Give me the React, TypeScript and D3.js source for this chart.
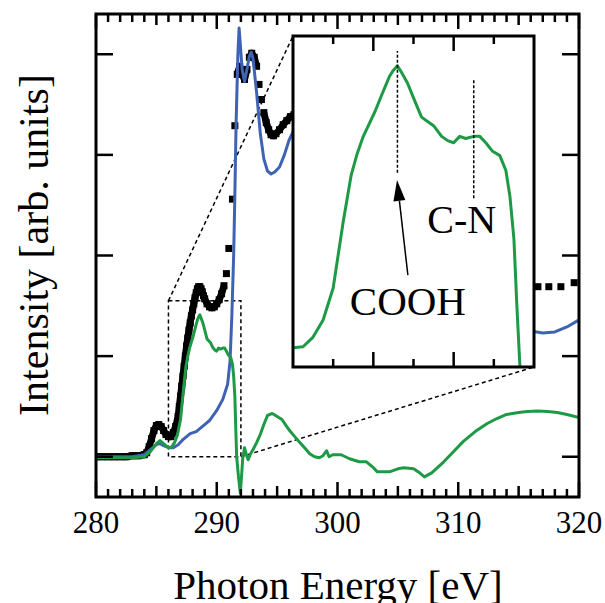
import React from "react";
import * as d3 from "d3";

type Pt = [number, number];

// photon energy [eV], intensity [arb. units]
const sampleSpectrum: Pt[] = [
  [280, 0], [280.5, 0], [281, 0], [281.5, 0], [282, 0], [282.5, 0], [283, 0.01], [283.5, 0.01], [284, 0.02],
  [284.2, 0.04], [284.4, 0.1], [284.6, 0.18], [284.8, 0.26], [285.0, 0.31], [285.2, 0.32], [285.4, 0.3],
  [285.6, 0.26], [285.8, 0.22], [286.0, 0.2], [286.2, 0.2], [286.4, 0.24], [286.6, 0.3], [286.8, 0.4],
  [286.9, 0.5], [287.0, 0.6], [287.1, 0.7], [287.2, 0.8], [287.3, 0.9], [287.4, 1.0], [287.5, 1.1],
  [287.6, 1.18], [287.7, 1.26], [287.8, 1.33], [287.9, 1.4], [288.0, 1.46], [288.1, 1.52], [288.2, 1.58],
  [288.3, 1.63], [288.4, 1.67], [288.5, 1.69], [288.6, 1.69], [288.7, 1.67], [288.8, 1.64], [288.9, 1.6],
  [289.0, 1.57], [289.2, 1.52], [289.4, 1.49], [289.6, 1.48], [289.8, 1.49], [290.0, 1.52], [290.2, 1.56],
  [290.4, 1.62], [290.6, 1.7], [290.8, 1.82], [291.0, 2.07], [291.3, 2.56], [291.5, 3.29], [291.7, 3.8],
  [291.9, 3.88], [292.1, 3.8], [292.3, 3.75], [292.5, 3.85], [292.7, 3.97], [292.9, 4.01], [293.1, 3.97],
  [293.3, 3.88], [293.5, 3.7], [293.7, 3.55], [293.9, 3.42], [294.1, 3.32], [294.3, 3.25], [294.5, 3.2],
  [294.7, 3.19], [294.9, 3.21], [295.2, 3.25], [295.5, 3.3], [295.8, 3.34], [296.1, 3.38], [296.4, 3.4],
  [297, 3.42], [298.5, 3.35], [300, 3.2], [302, 2.95], [304, 2.7], [306, 2.45], [308, 2.25], [310, 2.05],
  [312, 1.9], [314, 1.78], [315.6, 1.72], [316.6, 1.69], [317.5, 1.69], [318.5, 1.69], [319.6, 1.73],
];

const referenceSpectrum: Pt[] = [
  [280, 0], [283, 0], [284, 0.02], [284.5, 0.07], [285, 0.12], [285.3, 0.13], [285.6, 0.11], [286, 0.09],
  [286.4, 0.09], [286.8, 0.12], [287.2, 0.17], [287.8, 0.23], [288.3, 0.25], [288.9, 0.31], [289.4, 0.36],
  [290, 0.46], [290.5, 0.57], [290.9, 0.72], [291.1, 0.95], [291.25, 1.4], [291.4, 2.0], [291.5, 2.6],
  [291.6, 3.3], [291.75, 4.0], [291.85, 4.26], [291.95, 4.1], [292.1, 3.85], [292.3, 3.73], [292.5, 3.85],
  [292.7, 3.98], [292.85, 4.02], [293.0, 3.96], [293.3, 3.62], [293.6, 3.22], [293.9, 2.96], [294.2, 2.84],
  [294.5, 2.81], [294.8, 2.83], [295.2, 2.88], [295.6, 3.0], [296.0, 3.15], [296.4, 3.25], [297.5, 3.35],
  [299, 3.2], [301, 2.9], [303, 2.5], [305, 2.1], [308, 1.7], [311, 1.4], [313.5, 1.28], [316, 1.25],
  [317, 1.23], [318, 1.24], [319, 1.29], [320, 1.36],
];

const differenceSpectrum: Pt[] = [
  [280, -0.01], [283, -0.01], [284, 0.0], [284.5, 0.05], [285, 0.13], [285.3, 0.16], [285.6, 0.13],
  [286.0, 0.09], [286.25, 0.095], [286.5, 0.14], [286.75, 0.22], [287.0, 0.37], [287.25, 0.68],
  [287.45, 0.9], [287.6, 1.0], [287.75, 1.08], [287.9, 1.14], [288.05, 1.2], [288.2, 1.27], [288.4, 1.36],
  [288.5, 1.39], [288.6, 1.41], [288.7, 1.38], [288.85, 1.33], [289.0, 1.26], [289.2, 1.17], [289.35, 1.15],
  [289.5, 1.13], [289.7, 1.08], [289.85, 1.06], [290.0, 1.05], [290.15, 1.08], [290.3, 1.07], [290.5, 1.08],
  [290.65, 1.08], [290.8, 1.05], [290.97, 1.01], [291.15, 0.99], [291.3, 0.92], [291.4, 0.8], [291.5, 0.6],
  [291.57, 0.3], [291.65, 0.0], [291.8, -0.2], [291.95, -0.36], [292.05, -0.2], [292.15, -0.02],
  [292.3, 0.09], [292.45, 0.02], [292.6, -0.03], [292.8, 0.03], [293.0, 0.07], [293.3, 0.14], [293.6, 0.22],
  [293.9, 0.32], [294.2, 0.41], [294.6, 0.43], [295.0, 0.4], [295.4, 0.37], [295.8, 0.3], [296.1, 0.25],
  [296.6, 0.18], [297.2, 0.1], [297.7, 0.03], [298.1, 0.0], [298.5, -0.01], [298.8, 0.01], [299.1, 0.06],
  [299.3, 0.0], [299.6, 0.02], [300.3, 0.02], [301.0, -0.02], [301.8, -0.05], [302.4, -0.05], [302.9, -0.1],
  [303.3, -0.15], [304.3, -0.15], [305.0, -0.12], [305.5, -0.11], [306.3, -0.12], [306.8, -0.16],
  [307.2, -0.2], [307.8, -0.16], [308.8, -0.05], [309.6, 0.05], [310.4, 0.15], [311.4, 0.25], [312.4, 0.33],
  [313.2, 0.38], [314.0, 0.42], [315.0, 0.44], [315.7, 0.45], [316.6, 0.455], [317.4, 0.45], [318.2, 0.44],
  [319.0, 0.42], [320, 0.39],
];

const energyDomain = [280, 320];
const intensityDomain = [-0.4, 4.4];
const xTickLabels = [280, 290, 300, 310, 320];
const yTickValues = [0, 1, 2, 3, 4];
const zoomEnergy = [286, 292];
const zoomIntensity = [0, 1.55];
const insetTicks = [287, 288, 289, 290, 291];

// dashed guide lines inside the inset
const peakLines = [
  { label: "COOH", energy: 288.6, from: 0.91, to: 1.48 },
  { label: "C-N", energy: 290.5, from: 0.79, to: 1.35 },
];
const arrowTail: Pt = [288.86, 0.43];
const arrowTip: Pt = [288.59, 0.876];

const BLUE = "#3f63b3";
const GREEN = "#1e9a46";
const FONT = '"Liberation Serif", "Times New Roman", Times, serif';

const plot = { left: 96, right: 579, top: 14, bottom: 497 };
const inset = { left: 293, right: 534, top: 36, bottom: 367 };

export default function App() {
  const x = d3.scaleLinear().domain(energyDomain).range([plot.left, plot.right]);
  const y = d3.scaleLinear().domain(intensityDomain).range([plot.bottom, plot.top]);
  const ix = d3.scaleLinear().domain(zoomEnergy).range([inset.left, inset.right]);
  const iy = d3.scaleLinear().domain(zoomIntensity).range([inset.bottom, inset.top]);

  const line = d3.line<Pt>().x(d => x(d[0])).y(d => y(d[1]));
  const insetLine = d3.line<Pt>().x(d => ix(d[0])).y(d => iy(d[1]));

  // densely sampled markers merge into a band: join neighbours that sit close on screen
  const bandSegments: Pt[][] = [];
  let seg: Pt[] = [sampleSpectrum[0]];
  for (let i = 1; i < sampleSpectrum.length; i++) {
    const a = sampleSpectrum[i - 1], b = sampleSpectrum[i];
    const near = Math.hypot(x(b[0]) - x(a[0]), y(b[1]) - y(a[1])) < 10.5;
    if (near) seg.push(b);
    else {
      bandSegments.push(seg);
      seg = [b];
    }
  }
  bandSegments.push(seg);

  const minor = d3.range(energyDomain[0], energyDomain[1] + 0.5, 1);
  const tickLen = (e: number) => (e % 10 === 0 ? 15 : e % 5 === 0 ? 11 : 8);

  const zx0 = x(zoomEnergy[0]), zx1 = x(zoomEnergy[1]);
  const zy0 = y(zoomIntensity[0]), zy1 = y(zoomIntensity[1]);

  const tx = ix(arrowTip[0]), ty = iy(arrowTip[1]);
  const sx = ix(arrowTail[0]), sy = iy(arrowTail[1]);
  const len = Math.hypot(tx - sx, ty - sy);
  const ux = (tx - sx) / len, uy = (ty - sy) / len;
  const headL = 21, headW = 6;
  const bx = tx - ux * headL, by = ty - uy * headL;
  const head = `${tx},${ty} ${bx - uy * headW},${by + ux * headW} ${bx + uy * headW},${by - ux * headW}`;

  return (
    <svg width={605} height={603} style={{ position: "absolute", left: 0, top: 0, background: "#fff", fontFamily: FONT }}>
      <defs>
        <clipPath id="plotClip">
          <rect x={plot.left} y={plot.top} width={plot.right - plot.left} height={plot.bottom - plot.top} />
        </clipPath>
        <clipPath id="insetClip">
          <rect x={inset.left} y={inset.top} width={inset.right - inset.left} height={inset.bottom - inset.top} />
        </clipPath>
      </defs>

      {/* zoom window and guides */}
      <g stroke="#000" strokeWidth={1.5} strokeDasharray="4,3" fill="none">
        <rect x={zx0} y={zy1} width={zx1 - zx0} height={zy0 - zy1} />
        <line x1={zx0} y1={zy1} x2={inset.left} y2={inset.top} />
        <line x1={zx1} y1={zy0} x2={inset.right} y2={inset.bottom} />
      </g>

      <g clipPath="url(#plotClip)">
        {bandSegments.filter(s => s.length > 1).map((s, i) => (
          <path key={i} d={line(s) || ""} fill="none" stroke="#000" strokeWidth={7} strokeLinejoin="round" />
        ))}
        <g fill="#000">
          {sampleSpectrum.map((d, i) => (
            <rect key={i} x={x(d[0]) - 3.5} y={y(d[1]) - 3.5} width={7} height={7} />
          ))}
        </g>
        <path d={line(referenceSpectrum) || ""} fill="none" stroke={BLUE} strokeWidth={3} strokeLinejoin="round" />
        <path d={line(differenceSpectrum) || ""} fill="none" stroke={GREEN} strokeWidth={3} strokeLinejoin="round" />
      </g>

      {/* inset */}
      <rect x={inset.left} y={inset.top} width={inset.right - inset.left} height={inset.bottom - inset.top}
        fill="#fff" />
      <g clipPath="url(#insetClip)">
        <path d={insetLine(differenceSpectrum) || ""} fill="none" stroke={GREEN} strokeWidth={3}
          strokeLinejoin="round" />
      </g>
      <g stroke="#000" strokeWidth={2.5}>
        {insetTicks.map(t => {
          const l = t % 2 === 0 ? 15 : 8;
          return (
            <g key={t}>
              <line x1={ix(t)} x2={ix(t)} y1={inset.top} y2={inset.top + l} />
              <line x1={ix(t)} x2={ix(t)} y1={inset.bottom} y2={inset.bottom - l} />
            </g>
          );
        })}
      </g>
      {peakLines.map(p => (
        <line key={p.label} x1={ix(p.energy)} x2={ix(p.energy)} y1={iy(p.from)} y2={iy(p.to)}
          stroke="#000" strokeWidth={1.5} strokeDasharray="3,2" />
      ))}
      <line x1={sx} y1={sy} x2={bx} y2={by} stroke="#000" strokeWidth={1.5} />
      <polygon points={head} fill="#000" />
      <text x={sx} y={sy + 40} fontSize={41} textAnchor="middle">COOH</text>
      <text x={ix(peakLines[1].energy) - 12} y={iy(peakLines[1].from) + 35} fontSize={40}
        textAnchor="middle">C-N</text>
      <rect x={inset.left} y={inset.top} width={inset.right - inset.left} height={inset.bottom - inset.top}
        fill="none" stroke="#000" strokeWidth={3} />

      {/* frame and ticks */}
      <g stroke="#000" strokeWidth={2.5}>
        {minor.map(e => (
          <g key={e}>
            <line x1={x(e)} x2={x(e)} y1={plot.bottom} y2={plot.bottom - tickLen(e)} />
            <line x1={x(e)} x2={x(e)} y1={plot.top} y2={plot.top + tickLen(e)} />
          </g>
        ))}
        {yTickValues.map(v => (
          <g key={v}>
            <line x1={plot.left} x2={plot.left + 17} y1={y(v)} y2={y(v)} />
            <line x1={plot.right} x2={plot.right - 17} y1={y(v)} y2={y(v)} />
          </g>
        ))}
      </g>
      <rect x={plot.left} y={plot.top} width={plot.right - plot.left} height={plot.bottom - plot.top}
        fill="none" stroke="#000" strokeWidth={3} />

      {xTickLabels.map(t => (
        <text key={t} x={x(t)} y={533} fontSize={31} textAnchor="middle">{t}</text>
      ))}
      <text x={338} y={599} fontSize={41} textAnchor="middle">Photon Energy [eV]</text>
      <text transform="translate(48,245) rotate(-90)" fontSize={42} textAnchor="middle">
        Intensity [arb. units]
      </text>
    </svg>
  );
}
